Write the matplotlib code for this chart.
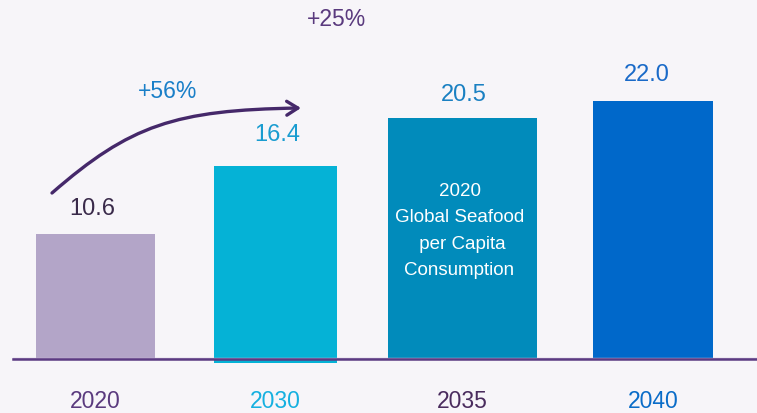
import matplotlib.pyplot as plt
from matplotlib.patches import FancyArrowPatch
from matplotlib.path import Path

plt.rcParams['font.family'] = ['Liberation Sans', 'DejaVu Sans']

# data
years = ["2020", "2030", "2035", "2040"]
values = [10.6, 16.4, 20.5, 22.0]
labels = ["10.6", "16.4", "20.5", "22.0"]
growth = ["+56%", "+25%"]
note = "2020\nGlobal Seafood\n per Capita\nConsumption"

# layout (x in pixel-like units, y in value units)
xpos = [95.5, 275.5, 462.5, 653]
label_x = [92, 277, 464, 647]
widths = [119, 123, 149, 120]
bottoms = [0, -0.35, 0, 0]
bar_colors = ["#b3a5c8", "#05b2d6", "#018bbb", "#0068ca"]
year_colors = ["#5a3a7e", "#16b0e0", "#4a2c5e", "#0a6cc8"]
val_colors = ["#3a2a4a", "#1a9cd0", "#1a80c2", "#1a6ac8"]
val_offsets = [2.2, 2.65, 1.95, 2.2]
PX = 11.75  # pixels per unit
BASE = 359

fig = plt.figure(figsize=(7.57, 4.13), dpi=100)
fig.patch.set_facecolor("#f7f5f9")
ax = fig.add_axes([0, 0, 1, 1])
ax.set_facecolor("#f7f5f9")
ax.set_xlim(0, 757)
ax.set_ylim(-(413 - BASE) / PX, BASE / PX)
ax.axis("off")

ax.bar(xpos, [v - b for v, b in zip(values, bottoms)], width=widths, bottom=bottoms,
       color=bar_colors, zorder=2)
ax.plot([13, 757], [0.12, 0.12], color="#c9b8d8", lw=1, zorder=3)
ax.plot([13, 757], [0, 0], color="#5b3a82", lw=1.8, zorder=3)

for x, v, lab, c, off in zip(label_x, values, labels, val_colors, val_offsets):
    ax.text(x, v + off, lab, ha="center", va="center", fontsize=17, color=c)

for x, y, c in zip(xpos, years, year_colors):
    ax.text(x, -3.6, y, ha="center", va="center", fontsize=16.5, color=c)

ax.text(xpos[2] - 3, 10.9, note, ha="center", va="center", fontsize=13.5,
        color="white", linespacing=1.72, zorder=4)

ax.text(168, (BASE - 92) / PX, growth[0], ha="center", va="center", fontsize=16.5, color="#1a7fc8")
ax.text(336, (BASE - 20) / PX, growth[1], ha="center", va="center", fontsize=16.5, color="#5a3a7e")

verts = [(52, (BASE - 193) / PX), (130, (BASE - 125) / PX),
         (175, (BASE - 110) / PX), (301, (BASE - 108) / PX)]
path = Path(verts, [Path.MOVETO, Path.CURVE4, Path.CURVE4, Path.CURVE4])
arrow = FancyArrowPatch(path=path, arrowstyle="->,head_length=8,head_width=5",
                        color="#45286a", lw=2.4, zorder=5)
ax.add_patch(arrow)

fig.savefig("out.png", dpi=100, facecolor=fig.get_facecolor())
